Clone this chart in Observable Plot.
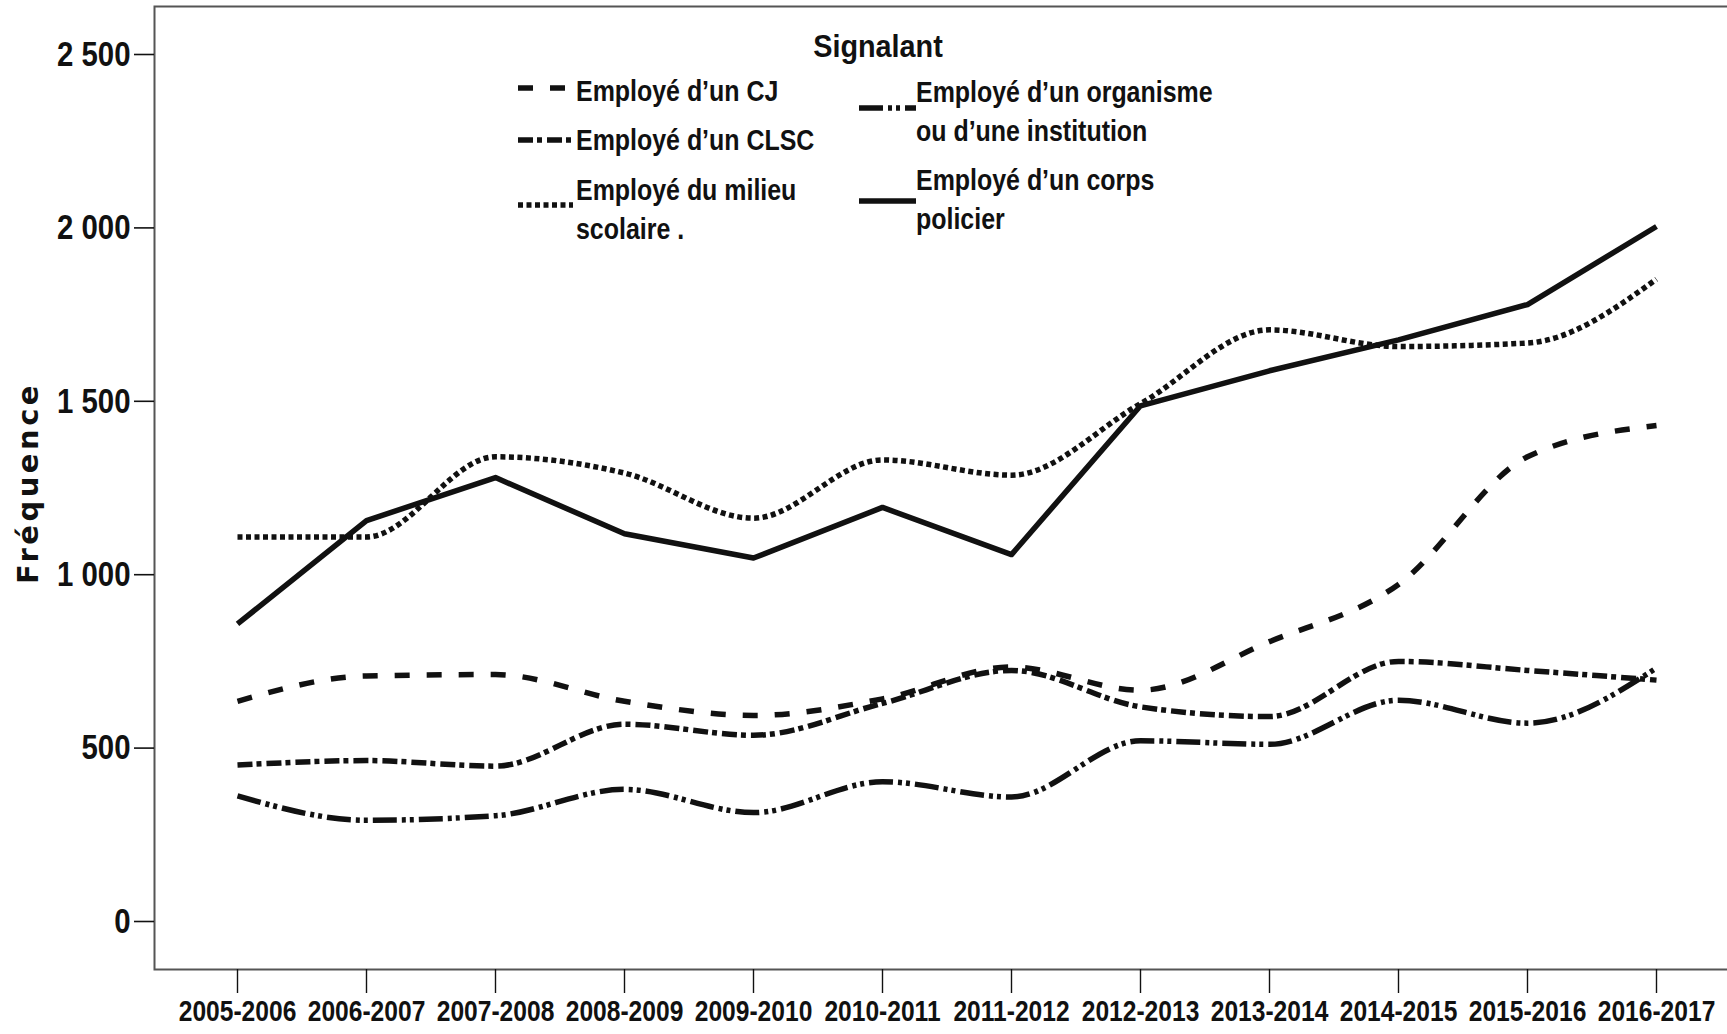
<!DOCTYPE html>
<html>
<head>
<meta charset="utf-8">
<script src="https://cdn.jsdelivr.net/npm/d3@7"></script>
<script src="https://cdn.jsdelivr.net/npm/@observablehq/plot@0.6"></script>
<style>
html, body { margin: 0; padding: 0; background: #fff; }
#wrap { position: relative; width: 1727px; height: 1034px; overflow: hidden; background: #fff; }
.nb { font-family: "Liberation Sans", Arial, sans-serif; font-weight: bold; color: #111; }
.leg { position: absolute; font-size: 29px; line-height: 39px; white-space: nowrap; transform-origin: 0 50%; transform: scaleX(0.86); }
.sw { position: absolute; }
#ylab { position: absolute; font-family: "DejaVu Sans", Verdana, sans-serif; font-weight: bold; font-size: 29px; letter-spacing: 3.5px; color: #111; white-space: nowrap; transform: translate(-50%, -50%) rotate(-90deg); }
</style>
</head>
<body>
<div id="wrap"></div>
<script>
// ---- Data ----
const periods = ["2005-2006","2006-2007","2007-2008","2008-2009","2009-2010","2010-2011","2011-2012","2012-2013","2013-2014","2014-2015","2015-2016","2016-2017"];
const seriesNames = ["Employé d’un CJ", "Employé d’un CLSC", "Employé du milieu scolaire", "Employé d’un organisme ou d’une institution", "Employé d’un corps policier"];
const cjValues        = [635, 708, 712, 635, 594, 642, 734, 667, 807, 972, 1340, 1430];
const clscValues      = [451, 464, 448, 569, 537, 629, 724, 619, 591, 750, 724, 696];
const scolaireValues  = [1109, 1109, 1340, 1293, 1163, 1331, 1287, 1493, 1706, 1658, 1668, 1852];
const organismeValues = [362, 292, 305, 381, 314, 403, 359, 521, 511, 638, 572, 731];
const policeValues    = [858, 1156, 1280, 1118, 1048, 1194, 1058, 1487, 1588, 1677, 1779, 2004];
const yTicks = [0, 500, 1000, 1500, 2000, 2500];
const legendTitle = "Signalant";
const yLabel = "Fréquence";

const seriesValues = [cjValues, clscValues, scolaireValues, organismeValues, policeValues];

// ---- Styles (separate from data) ----
const lineStyles = [
  {dash: "15,17", curve: "monotone-x"},
  {dash: "15,4,5,5", curve: "monotone-x"},
  {dash: "5,3.5", curve: "monotone-x"},
  {dash: "24,5,4,4,4,5", curve: "monotone-x"},
  {dash: null, curve: "linear"}
];
const INK = "#111";
const LW = 5.5;

const rows = [];
seriesNames.forEach((name, i) => periods.forEach((p, j) => rows.push({serie: name, periode: p, valeur: seriesValues[i][j]})));

const fmt = v => v >= 1000 ? `${Math.floor(v / 1000)} ${String(v % 1000).padStart(3, "0")}` : String(v);

const lineMarks = seriesNames.map((name, i) => Plot.line(rows.filter(r => r.serie === name), {
  x: "periode", y: "valeur",
  stroke: INK, strokeWidth: LW,
  strokeDasharray: lineStyles[i].dash || undefined,
  strokeLinecap: "butt", strokeLinejoin: "round",
  curve: lineStyles[i].curve
}));

const chart = Plot.plot({
  width: 1727,
  height: 1034,
  marginLeft: 154,
  marginRight: -4,
  marginTop: 6,
  marginBottom: 65,
  style: {background: "#fff", color: INK, fontFamily: "'Liberation Sans', Arial, sans-serif", fontWeight: "bold", overflow: "hidden"},
  x: {type: "point", domain: periods, range: [233, 1660], padding: 0},
  y: {domain: [0, 2500], range: [921, 54]},
  marks: [
    Plot.frame({stroke: "#555", strokeWidth: 2}),
    Plot.axisY({ticks: yTicks, tickFormat: fmt, tickSize: 20, tickPadding: 4, fontSize: 35, label: null, stroke: INK, strokeWidth: 1.6}),
    Plot.axisX({ticks: periods, tickSize: 24, tickPadding: 6, fontSize: 30, label: null, stroke: INK, strokeWidth: 1.4}),
    ...lineMarks
  ]
});

// Condense axis tick labels horizontally (narrow bold look)
function condense(selector, s) {
  chart.querySelectorAll(selector).forEach(t => {
    const tr = t.getAttribute("transform");
    if (tr) {
      t.setAttribute("transform", tr + ` scale(${s},1)`);
    } else {
      const x = +(t.getAttribute("x") || 0), y = +(t.getAttribute("y") || 0);
      t.setAttribute("x", 0); t.setAttribute("y", 0);
      t.setAttribute("transform", `translate(${x},${y}) scale(${s},1)`);
    }
  });
}
condense('g[aria-label="x-axis tick label"] text', 0.82);
condense('g[aria-label="y-axis tick label"] text', 0.84);

const wrap = document.getElementById("wrap");
wrap.appendChild(chart);

// ---- Y label ----
const yl = document.createElement("div");
yl.id = "ylab";
yl.textContent = yLabel;
yl.style.left = "28px";
yl.style.top = "483px";
wrap.appendChild(yl);

// ---- Legend (overlay inside plot area) ----
function addText(txt, left, centerY) {
  const d = document.createElement("div");
  d.className = "leg nb";
  d.style.left = left + "px";
  d.style.top = (centerY - 19.5) + "px";
  d.innerHTML = txt;
  wrap.appendChild(d);
  return d;
}
function addSwatch(i, x0, x1, y) {
  const ns = "http://www.w3.org/2000/svg";
  const s = document.createElementNS(ns, "svg");
  s.setAttribute("class", "sw");
  s.setAttribute("width", x1 - x0);
  s.setAttribute("height", 12);
  s.style.left = x0 + "px";
  s.style.top = (y - 6) + "px";
  const l = document.createElementNS(ns, "line");
  l.setAttribute("x1", 0); l.setAttribute("x2", x1 - x0);
  l.setAttribute("y1", 6); l.setAttribute("y2", 6);
  l.setAttribute("stroke", INK);
  l.setAttribute("stroke-width", LW);
  if (lineStyles[i].dash) l.setAttribute("stroke-dasharray", lineStyles[i].dash);
  s.appendChild(l);
  wrap.appendChild(s);
}

const t = addText(legendTitle, 878, 46);
t.style.fontSize = "32px";
t.style.transformOrigin = "50% 50%";
t.style.transform = "translateX(-50%) scaleX(0.9)";

addSwatch(0, 518, 573, 88);
addText("Employé d’un CJ", 576, 91);
addSwatch(1, 518, 573, 140);
addText("Employé d’un CLSC", 576, 140);
addSwatch(2, 518, 573, 205);
addText("Employé du milieu<br>scolaire .", 576, 190);
addSwatch(3, 859, 916, 108);
addText("Employé d’un organisme<br>ou d’une institution", 916, 92);
addSwatch(4, 859, 916, 201);
addText("Employé d’un corps<br>policier", 916, 180);
</script>
</body>
</html>
